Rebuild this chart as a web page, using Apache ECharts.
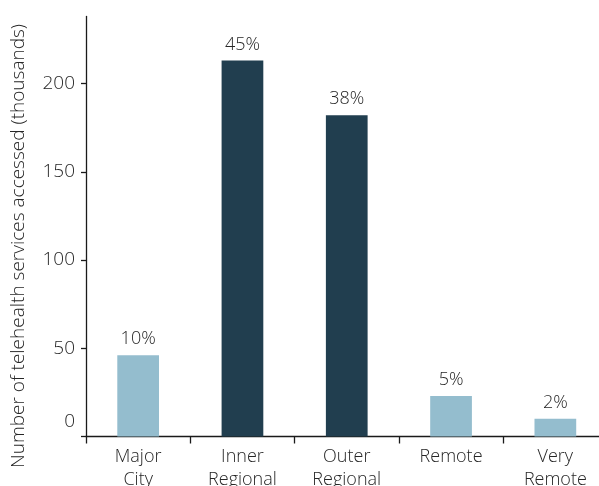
<!DOCTYPE html>
<html>
<head>
<meta charset="utf-8">
<script src="https://cdn.jsdelivr.net/npm/echarts@6/dist/echarts.min.js"></script>
<style>html,body{margin:0;padding:0;background:#fff}#c{width:599px;height:486px}</style>
</head>
<body>
<div id="c"></div>
<script>
var categories = ['Major\nCity', 'Inner\nRegional', 'Outer\nRegional', 'Remote', 'Very\nRemote'];
var values = [46, 213, 182, 23, 10];
var shares = ['10%', '45%', '38%', '5%', '2%'];
var highlighted = [false, true, true, false, false];
var yTicks = [0, 50, 100, 150, 200];
var yTitle = 'Number of telehealth services accessed (thousands)';

var LIGHT = '#94bdce', DARK = '#213e4f', TXT = '#262626', FONT = '"Open Sans", sans-serif';
var chart = echarts.init(document.getElementById('c'));
chart.setOption({
  animation: false,
  grid: { left: 86, right: -8.5, top: 16.5, bottom: 49.5, containLabel: false, outerBoundsMode: 'none' },
  xAxis: {
    type: 'category',
    data: categories,
    axisLine: { lineStyle: { color: '#1a1a1a', width: 1.3 } },
    axisTick: { show: true, length: 7, lineStyle: { color: '#1a1a1a', width: 1.3 } },
    axisLabel: { color: TXT, fontFamily: FONT, fontWeight: 300, fontSize: 18, lineHeight: 23, margin: 9, interval: 0 }
  },
  yAxis: {
    type: 'value',
    min: 0, max: 238, interval: 50,
    splitLine: { show: false },
    axisLine: { show: true, lineStyle: { color: '#1a1a1a', width: 1.3 } },
    axisTick: { show: true, length: 5, customValues: yTicks, lineStyle: { color: '#1a1a1a', width: 1.3 } },
    axisLabel: {
      customValues: yTicks,
      color: TXT, fontFamily: FONT, fontWeight: 300, fontSize: 19, margin: 11,
      formatter: function (v) { return v === 0 ? '{z|0}' : String(v); },
      rich: { z: { color: TXT, fontFamily: FONT, fontWeight: 300, fontSize: 19, padding: [0, 0, 30, 0] } }
    }
  },
  graphic: [{
    type: 'text', x: 19, y: 246, rotation: Math.PI / 2,
    style: { text: yTitle, fill: TXT, font: '300 19px "Open Sans", sans-serif', textAlign: 'center', textVerticalAlign: 'middle' }
  }],
  series: [{
    type: 'bar',
    barWidth: '40%',
    data: values.map(function (v, i) {
      return { value: v, itemStyle: { color: highlighted[i] ? DARK : LIGHT } };
    }),
    label: {
      show: true, position: 'top', distance: 7,
      color: TXT, fontFamily: FONT, fontWeight: 300, fontSize: 18,
      formatter: function (p) { return shares[p.dataIndex]; }
    }
  }]
});
</script>
</body>
</html>
